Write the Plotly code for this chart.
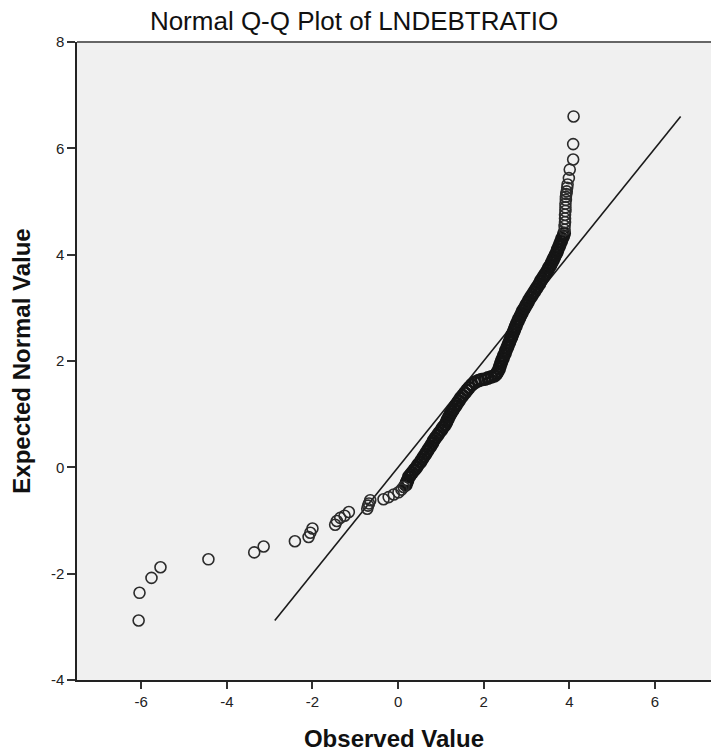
import plotly.graph_objects as go

tail_obs = [-6.06, -6.04, -5.76, -5.55, -4.43, -3.36, -3.14, -2.41, -2.09, -2.05, -2.00,
            -1.47, -1.43, -1.35, -1.25, -1.15, -0.72, -0.70, -0.68, -0.65,
            -0.34, -0.22, -0.10, 0.01, 0.08, 0.13]
tail_exp = [-2.88, -2.36, -2.08, -1.88, -1.73, -1.60, -1.49, -1.39, -1.31, -1.23, -1.15,
            -1.08, -1.01, -0.95, -0.91, -0.84, -0.78, -0.72, -0.68, -0.62,
            -0.60, -0.56, -0.51, -0.47, -0.42, -0.37]

body_obs = [0.18, 0.20, 0.22, 0.25, 0.29, 0.33, 0.38, 0.43, 0.47, 0.52, 0.56, 0.60, 0.64, 0.68,
            0.72, 0.76, 0.80, 0.83, 0.87, 0.92, 0.96, 1.01, 1.05, 1.10, 1.13, 1.16, 1.19, 1.22,
            1.26, 1.30, 1.34, 1.38, 1.42, 1.46, 1.51, 1.56, 1.61, 1.66, 1.72, 1.80, 1.88, 1.95,
            2.03, 2.10, 2.18, 2.25, 2.30, 2.33, 2.36, 2.38, 2.40, 2.42, 2.45, 2.47, 2.50, 2.52,
            2.55, 2.57, 2.60, 2.62, 2.65, 2.67, 2.70, 2.72, 2.75, 2.77, 2.80, 2.83, 2.86, 2.89,
            2.92, 2.96, 2.99, 3.03, 3.06, 3.10, 3.14, 3.18, 3.22, 3.26, 3.30, 3.33, 3.37, 3.41,
            3.45, 3.49, 3.52, 3.56, 3.59, 3.62, 3.65, 3.68, 3.71, 3.73, 3.76, 3.78, 3.81, 3.83,
            3.86, 3.88]
body_exp = [-0.33, -0.29, -0.25, -0.18, -0.14, -0.10, -0.05, 0.00, 0.05, 0.10, 0.15, 0.20, 0.25, 0.30,
            0.35, 0.40, 0.45, 0.50, 0.55, 0.60, 0.65, 0.70, 0.75, 0.80, 0.85, 0.90, 0.95, 1.00,
            1.05, 1.10, 1.15, 1.20, 1.25, 1.30, 1.35, 1.40, 1.45, 1.50, 1.55, 1.60, 1.63, 1.65,
            1.66, 1.68, 1.70, 1.72, 1.76, 1.80, 1.85, 1.90, 1.95, 2.00, 2.05, 2.10, 2.15, 2.20,
            2.25, 2.30, 2.35, 2.40, 2.45, 2.50, 2.55, 2.60, 2.65, 2.70, 2.75, 2.80, 2.85, 2.90,
            2.95, 3.00, 3.05, 3.10, 3.15, 3.20, 3.25, 3.30, 3.35, 3.40, 3.45, 3.50, 3.55, 3.60,
            3.65, 3.70, 3.75, 3.80, 3.85, 3.90, 3.95, 4.00, 4.05, 4.10, 4.15, 4.20, 4.25, 4.30,
            4.35, 4.40]

top_obs = [3.89, 3.89, 3.90, 3.90, 3.90, 3.91, 3.91, 3.91, 3.92, 3.92, 3.93, 3.94, 3.95, 3.96,
           3.99, 4.01, 4.09, 4.09, 4.10]
top_exp = [4.47, 4.54, 4.61, 4.68, 4.75, 4.82, 4.89, 4.96, 5.03, 5.09, 5.14, 5.19, 5.26, 5.32,
           5.44, 5.60, 5.79, 6.08, 6.60]

x_ticks = [-6, -4, -2, 0, 2, 4, 6]
y_ticks = [-4, -2, 0, 2, 4, 6, 8]

all_exp = tail_exp + body_exp + top_exp
lo, hi = min(all_exp), max(all_exp)

fig = go.Figure()
fig.add_trace(go.Scatter(
    x=[lo, hi], y=[lo, hi], mode="lines",
    line=dict(color="#1a1a1a", width=1.6), hoverinfo="skip", showlegend=False))
# the dense middle of the sample overlaps into a solid band in the reference
fig.add_trace(go.Scatter(
    x=body_obs, y=body_exp, mode="markers",
    marker=dict(symbol="circle-open", size=11, color="#151515", line=dict(width=2.8)),
    showlegend=False))
fig.add_trace(go.Scatter(
    x=tail_obs + top_obs, y=tail_exp + top_exp, mode="markers",
    marker=dict(symbol="circle-open", size=11, color="#2b2b2b", line=dict(width=1.6)),
    showlegend=False))

font_family = "Liberation Sans, Arial, sans-serif"
fig.update_layout(
    width=711, height=753,
    margin=dict(l=77, r=0, t=42, b=73),
    paper_bgcolor="white", plot_bgcolor="#f0f0f0",
    font=dict(family=font_family, color="#111111"),
    title=dict(text="Normal Q-Q Plot of LNDEBTRATIO", x=0.498, xanchor="center",
               y=0.972, yanchor="middle", yref="container",
               font=dict(size=26, family=font_family, color="#111111")),
    xaxis=dict(range=[-7.5, 7.31], tickvals=x_ticks, ticktext=[str(v) for v in x_ticks],
               automargin=False,
               showgrid=False, zeroline=False, showline=True, linecolor="#222222", linewidth=1.5,
               ticks="outside", ticklen=7, tickwidth=2, tickcolor="#333333",
               tickfont=dict(size=15, color="#222222"),
               title=dict(text="<b>Observed Value</b>", font=dict(size=24), standoff=21)),
    yaxis=dict(range=[-4, 8], tickvals=y_ticks, ticktext=[str(v) for v in y_ticks],
               automargin=False,
               showgrid=False, zeroline=False, showline=True, linecolor="#222222", linewidth=1.5,
               ticks="outside", ticklen=8, tickwidth=2, tickcolor="#333333",
               tickfont=dict(size=15, color="#222222"),
               title=dict(text="<b>Expected Normal Value</b>", font=dict(size=24), standoff=14)),
    shapes=[dict(type="line", xref="paper", yref="paper", x0=0, x1=1, y0=1, y1=1,
                 line=dict(color="#666666", width=2))],
)

fig.write_html("out.html", config={"displayModeBar": False},
               post_script="document.body.style.margin='0';document.body.style.overflow='hidden';")
